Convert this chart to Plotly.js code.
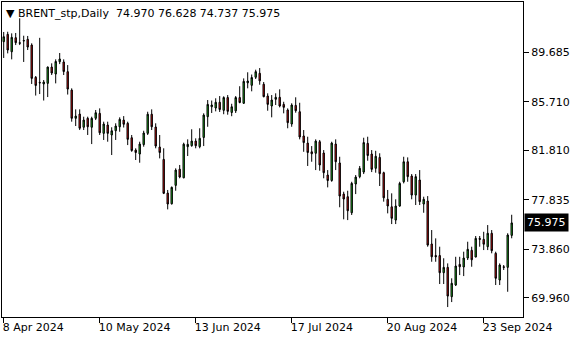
<!DOCTYPE html>
<html>
<head>
<meta charset="utf-8">
<script src="https://cdn.plot.ly/plotly-3.0.1.min.js"></script>
<style>html,body{margin:0;padding:0;background:#fff;}#chart{width:580px;height:340px;}</style>
</head>
<body>
<div id="chart"></div>
<script>
const symbol = "BRENT_stp";
const timeframe = "Daily";
const opens = [90.54,91.13,89.73,90.86,90.46,90.59,90.73,90.27,87.68,87.27,
87.14,87.19,88.50,87.94,88.93,88.91,88.13,86.65,84.38,84.72,
83.66,84.38,83.66,84.38,84.78,83.17,83.84,83.04,83.38,83.70,
84.24,83.98,82.82,81.83,81.51,82.27,83.17,84.71,83.68,82.07,
81.08,78.37,77.51,78.99,80.29,79.60,82.10,82.18,82.55,82.10,
82.84,84.51,85.31,85.21,85.67,85.02,86.05,84.85,84.98,86.05,
85.59,87.23,87.03,87.68,88.00,87.12,86.17,85.37,85.91,86.07,
85.50,85.05,83.92,85.42,84.91,82.96,82.39,81.69,81.57,82.50,
81.59,79.82,79.38,82.31,80.79,78.29,78.08,76.79,79.10,79.69,
80.06,82.37,81.51,80.36,81.24,80.01,77.87,77.27,76.20,77.33,
79.28,80.89,79.74,78.21,79.42,77.49,77.73,74.28,73.35,73.35,
71.97,72.40,70.04,70.98,72.64,72.43,73.15,73.77,73.23,74.73,
74.65,74.06,75.14,73.53,71.38,72.45,72.40,74.970];
const highs = [91.32,91.34,91.21,91.24,92.42,91.02,91.00,90.41,87.78,90.85,
87.46,88.54,88.80,89.12,89.63,89.12,88.66,86.79,85.10,85.10,
84.51,84.51,84.51,85.05,85.18,84.11,84.11,83.66,83.98,84.46,
84.56,84.11,83.04,81.97,82.50,83.38,84.91,85.10,83.98,83.04,
81.97,78.62,78.90,80.36,80.63,82.42,82.69,83.50,82.77,83.58,
84.78,85.85,85.81,85.99,86.17,86.15,86.25,85.55,86.17,86.96,
87.59,88.08,87.90,88.29,88.42,87.30,86.39,86.25,86.39,86.71,
85.71,85.18,85.59,86.07,85.63,83.44,82.90,82.15,82.69,82.64,
81.83,80.22,82.50,82.69,81.29,78.48,78.56,79.28,79.82,80.55,
82.82,82.90,81.83,81.77,81.57,80.09,78.62,78.35,77.87,79.28,
81.29,81.24,79.90,79.90,80.22,78.08,78.13,75.40,74.73,74.06,
73.13,72.72,71.52,73.25,73.25,73.66,74.46,74.06,74.92,74.92,
75.26,75.80,75.40,73.66,72.72,72.59,75.14,76.628];
const lows = [89.23,89.60,89.12,90.27,90.27,88.91,89.87,87.14,86.21,86.33,
85.81,86.09,87.86,87.19,88.74,87.86,86.29,84.11,83.76,83.44,
83.44,83.04,82.31,84.24,83.04,82.64,82.50,81.43,82.64,83.30,
83.64,82.23,81.69,81.03,80.81,82.10,83.04,83.44,81.97,81.16,
78.29,77.06,77.45,78.56,79.56,79.56,81.35,82.10,81.97,81.97,
82.15,83.70,84.81,84.94,84.89,84.71,84.67,84.55,84.81,85.59,
85.53,86.79,86.55,87.54,87.08,86.07,84.99,84.46,85.45,85.26,
84.78,83.58,83.70,84.83,82.69,81.69,80.55,80.89,80.22,80.17,
79.56,78.83,79.28,80.22,77.23,76.26,76.20,76.61,78.29,79.56,
79.90,80.97,80.06,80.01,78.94,77.68,76.74,75.88,75.88,77.27,
79.15,79.28,77.87,77.41,77.41,76.79,74.06,72.85,72.85,71.06,
71.06,69.21,69.61,70.90,71.78,71.70,72.99,72.45,73.21,74.06,
73.79,73.79,73.53,70.98,70.98,72.19,70.44,74.737];
const closes = [90.94,89.87,90.89,90.46,90.41,90.63,90.11,87.59,87.02,87.23,
87.30,88.50,88.02,88.95,89.15,88.14,86.73,84.38,84.56,83.58,
84.24,83.70,84.38,84.83,83.22,83.92,83.17,83.38,83.76,84.30,
83.90,82.69,81.79,81.63,82.31,83.20,84.71,83.70,82.15,81.63,
78.35,77.49,78.83,80.22,79.66,82.30,82.29,82.55,82.18,82.77,
84.64,85.50,85.45,85.67,85.09,86.05,84.94,85.31,86.05,85.65,
87.35,87.38,87.66,88.13,87.39,86.12,85.50,85.85,86.07,85.37,
85.26,84.03,85.45,84.99,82.88,82.43,81.63,81.53,82.55,80.63,
80.01,79.38,82.39,80.89,78.13,77.89,76.95,79.15,79.66,80.36,
82.43,81.39,80.28,81.33,79.93,77.99,77.33,76.34,77.33,79.15,
80.89,79.69,78.21,79.69,77.68,77.87,74.19,73.25,73.25,71.97,
72.40,70.09,71.12,72.51,72.45,73.15,73.85,73.01,74.73,74.65,
74.26,75.14,73.74,71.52,72.59,72.40,75.00,75.975];
const dateTickBars = [0, 24, 48, 72, 96, 120];
const dateTickLabels = ["8 Apr 2024","10 May 2024","13 Jun 2024","17 Jul 2024","20 Aug 2024","23 Sep 2024"];
const priceTicks = [69.960, 73.860, 77.835, 81.810, 85.710, 89.685];

const bars = opens.map((_, i) => i);
const n = opens.length;
const last = n - 1;
const fnt = "DejaVu Sans, Tahoma, sans-serif";

const trace = {
  type: "candlestick",
  x: bars, open: opens, high: highs, low: lows, close: closes,
  increasing: {line: {color: "#000000", width: 1}, fillcolor: "#22c422"},
  decreasing: {line: {color: "#000000", width: 1}, fillcolor: "#e01010"},
  whiskerwidth: 0,
  hoverinfo: "skip"
};

const hdr = '<span style="font-size:11px">▼</span> ' + symbol + "," + timeframe + "  " +
  [opens[last], highs[last], lows[last], closes[last]].map(v => v.toFixed(3)).join(" ");

const layout = {
  width: 580, height: 340,
  margin: {l: 2, r: 57, t: 2, b: 23, pad: 0},
  paper_bgcolor: "#ffffff", plot_bgcolor: "#ffffff",
  showlegend: false,
  boxgap: 0.5,
  font: {family: fnt, size: 11, color: "#000000"},
  xaxis: {
    type: "linear", range: [-0.425, 129.825], fixedrange: true,
    rangeslider: {visible: false},
    showgrid: false, zeroline: false,
    showline: true, linecolor: "#000000", linewidth: 1, mirror: true,
    ticks: "outside", ticklen: 5, tickwidth: 1, tickcolor: "#000000",
    tickvals: dateTickBars, ticktext: dateTickLabels,
    ticklabelposition: "outside right",
    ticklabelshift: -2,
    tickfont: {family: fnt, size: 11, color: "#000000"}
  },
  yaxis: {
    side: "right", range: [68.41, 93.73], fixedrange: true,
    showgrid: false, zeroline: false,
    showline: true, linecolor: "#000000", linewidth: 1, mirror: true,
    ticks: "outside", ticklen: 5, tickwidth: 1, tickcolor: "#000000",
    tickvals: priceTicks, ticktext: priceTicks.map(v => v.toFixed(3)),
    tickfont: {family: fnt, size: 11, color: "#000000"}
  },
  annotations: [
    {xref: "paper", yref: "paper", x: 0, y: 1, xanchor: "left", yanchor: "top",
     xshift: 2, yshift: -3, text: hdr, showarrow: false,
     font: {family: fnt, size: 11, color: "#000000"}},
    {xref: "paper", yref: "y", x: 1, y: closes[last], xanchor: "left", yanchor: "middle",
     xshift: 1, text: closes[last].toFixed(3), showarrow: false, bgcolor: "#000000",
     borderpad: 2, font: {family: fnt, size: 11, color: "#ffffff"}}
  ]
};

Plotly.newPlot("chart", [trace], layout, {displayModeBar: false, staticPlot: true});
</script>
</body>
</html>
